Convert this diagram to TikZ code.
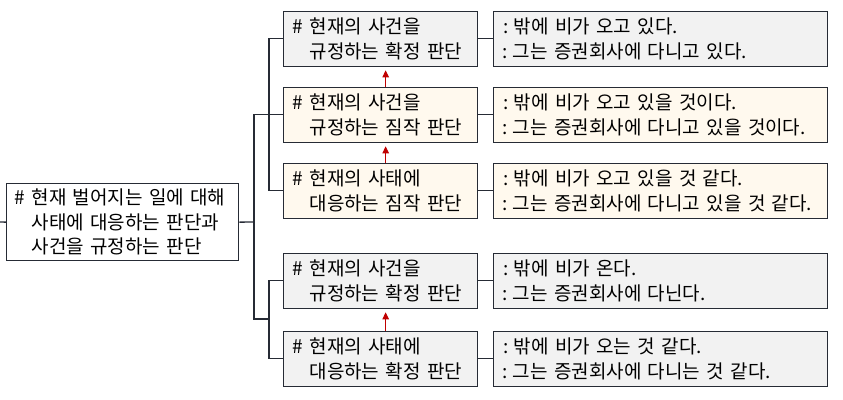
\documentclass[tikz,border=0pt]{standalone}
\usepackage{fontspec}
\setmainfont{Noto Sans CJK KR}
\usetikzlibrary{arrows.meta,calc}
\definecolor{edgecol}{HTML}{262B35}
\definecolor{greyfill}{HTML}{F2F2F2}
\definecolor{creamfill}{HTML}{FFF9EE}
\definecolor{arrowred}{HTML}{C00000}
\newcommand{\cln}{\kern1pt:\kern5pt}
\begin{document}
\begin{tikzpicture}[x=1pt,y=-1pt,
  every node/.style={font=\fontsize{19}{24.5}\selectfont, text=black},
  basebox/.style={draw=edgecol, line width=1.3pt, anchor=north west, align=left,
    inner xsep=9pt, inner ysep=0pt},
  leftbox/.style={basebox, minimum width=194pt, minimum height=55pt, text width=176pt},
  rightbox/.style={basebox, minimum width=334pt, minimum height=55pt, text width=316pt},
  greybox/.style={fill=greyfill},
  creambox/.style={fill=creamfill},
  link/.style={draw=edgecol, line width=1.3pt},
  uparrow/.style={draw=arrowred, line width=1pt, -{Triangle[width=6.5pt,length=7pt]}, shorten >=3.5pt}
]
\useasboundingbox (0,0) rectangle (843,399);

% root
\node[basebox, fill=white, minimum width=232pt, minimum height=77pt, text width=216pt, inner xsep=8pt] (root) at (6,183)
  {\# 현재 벌어지는 일에 대해\\\phantom{\# }사태에 대응하는 판단과\\\phantom{\# }사건을 규정하는 판단};

% left boxes
\node[leftbox, greybox]  (L1) at (283,10.5) {\# 현재의 사건을\\\phantom{\# }규정하는 확정 판단};
\node[leftbox, creambox] (L2) at (283,86.5) {\# 현재의 사건을\\\phantom{\# }규정하는 짐작 판단};
\node[leftbox, creambox] (L3) at (283,162.5) {\# 현재의 사태에\\\phantom{\# }대응하는 짐작 판단};
\node[leftbox, greybox]  (L4) at (283,252.5) {\# 현재의 사건을\\\phantom{\# }규정하는 확정 판단};
\node[leftbox, greybox]  (L5) at (283,330.5) {\# 현재의 사태에\\\phantom{\# }대응하는 확정 판단};

% right boxes
\node[rightbox, greybox]  (R1) at (493,10.5) {\cln 밖에 비가 오고 있다.\\\cln 그는 증권회사에 다니고 있다.};
\node[rightbox, creambox] (R2) at (493,86.5) {\cln 밖에 비가 오고 있을 것이다.\\\cln 그는 증권회사에 다니고 있을 것이다.};
\node[rightbox, creambox] (R3) at (493,162.5) {\cln 밖에 비가 오고 있을 것 같다.\\\cln 그는 증권회사에 다니고 있을 것 같다.};
\node[rightbox, greybox]  (R4) at (493,252.5) {\cln 밖에 비가 온다.\\\cln 그는 증권회사에 다닌다.};
\node[rightbox, greybox]  (R5) at (493,330.5) {\cln 밖에 비가 오는 것 같다.\\\cln 그는 증권회사에 다니는 것 같다.};

% connectors
\coordinate (stub) at (0,222);
\coordinate (trunkmid) at (254,222);
\coordinate (trunkbot) at (254,319);
\coordinate (g2) at (269,319);
\draw[link] (stub) -- (root.west);
\draw[link] (root.east) -- (trunkmid);
\draw[link] (L2.west) -| (trunkbot) -- (g2);
\draw[link] (L1.west) -- ++(-14,0) |- (L3.west);
\draw[link] (L4.west) -| (g2);
\draw[link] (L5.west) -| (g2);
\foreach \i in {1,...,5} {\draw[link] (L\i.east) -- (R\i.west);}

% red arrows
\draw[uparrow] ($(L2.north)+(5,0)$) -- ($(L1.south)+(5,0)$);
\draw[uparrow] ($(L3.north)+(5,0)$) -- ($(L2.south)+(5,0)$);
\draw[uparrow] ($(L5.north)+(5,0)$) -- ($(L4.south)+(5,0)$);
\end{tikzpicture}
\end{document}
